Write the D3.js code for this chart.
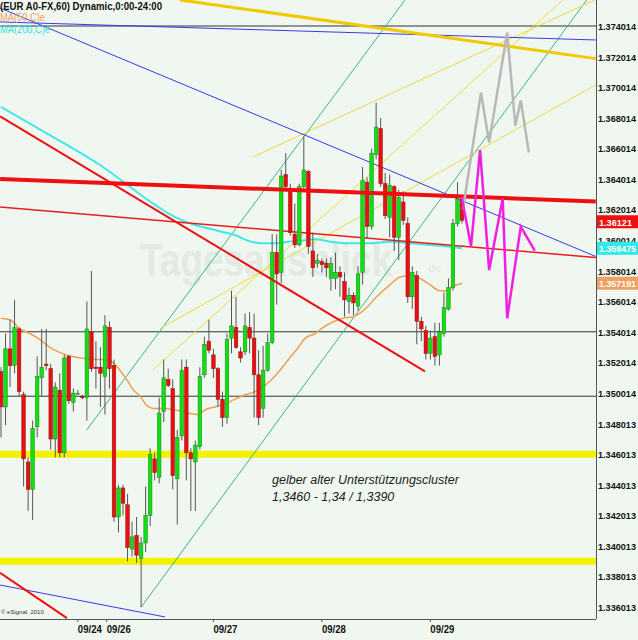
<!DOCTYPE html>
<html>
<head>
<meta charset="utf-8">
<script src="https://cdnjs.cloudflare.com/ajax/libs/d3/7.8.5/d3.min.js"></script>
<style>
  html, body { margin: 0; padding: 0; background: #f0f7f0; }
  svg { display: block; font-family: "Liberation Sans", Arial, sans-serif; }
</style>
</head>
<body>
<svg id="chart" width="638" height="640"></svg>
<script>
// hourly candles, index 0 = first visible bar
const opens = [1.3514,1.3491,1.3529,1.3518,1.3542,1.3499,1.3455,1.3437,1.3478,1.3510,1.3519,1.3516,1.3470,1.3502,1.3461,1.3524,1.3494,1.3500,1.3498,1.3497,
  1.3540,1.3517,1.3517,1.3511,1.3543,1.3518,1.3419,1.3438,1.3427,1.3398,1.3407,1.3392,1.3402,1.3420,1.3457,1.3445,1.3488,1.3509,1.3503,1.3444,
  1.3472,1.3517,1.3461,1.3455,1.3465,1.3512,1.3534,1.3525,1.3516,1.3496,1.3484,1.3536,1.3543,1.3527,1.3527,1.3543,1.3536,1.3512,1.3490,1.3515,
  1.3533,1.3592,1.3579,1.3643,1.3633,1.3604,1.3597,1.3635,1.3645,1.3593,1.3585,1.3586,1.3585,1.3575,1.3575,1.3579,1.3573,1.3560,1.3564,1.3557,
  1.3579,1.3638,1.3609,1.3656,1.3673,1.3637,1.3615,1.3635,1.3602,1.3625,1.3611,1.3563,1.3577,1.3547,1.3541,1.3526,1.3537,1.3525,1.3539,1.3555,
  1.3569,1.3611,1.3627];
const highs = [1.3517,1.3539,1.3548,1.3561,1.3543,1.3501,1.3458,1.3482,1.3524,1.3542,1.3542,1.3519,1.3507,1.3513,1.3525,1.3525,1.3503,1.3502,1.3499,1.3560,
  1.3580,1.3534,1.3530,1.3551,1.3547,1.3522,1.3440,1.3440,1.3434,1.3416,1.3419,1.3406,1.3439,1.3464,1.3461,1.3497,1.3522,1.3516,1.3509,1.3476,
  1.3522,1.3522,1.3464,1.3469,1.3517,1.3537,1.3548,1.3529,1.3517,1.3501,1.3539,1.3567,1.3563,1.3530,1.3552,1.3553,1.3552,1.3528,1.3531,1.3539,
  1.3604,1.3604,1.3646,1.3657,1.3637,1.3624,1.3637,1.3668,1.3646,1.3605,1.3591,1.3588,1.3588,1.3589,1.3592,1.3583,1.3579,1.3569,1.3566,1.3583,
  1.3648,1.3641,1.3660,1.3690,1.3680,1.3644,1.3643,1.3636,1.3633,1.3632,1.3615,1.3583,1.3580,1.3550,1.3544,1.3541,1.3546,1.3546,1.3566,1.3575,
  1.3614,1.3638,1.3628];
const lows = [1.3471,1.3479,1.3504,1.3513,1.3498,1.3439,1.3423,1.3417,1.3471,1.3498,1.3515,1.3463,1.3458,1.3458,1.3458,1.3493,1.3488,1.3499,1.3496,1.3482,
  1.3514,1.3503,1.3491,1.3486,1.3503,1.3416,1.3409,1.3420,1.3390,1.3393,1.3389,1.3360,1.3396,1.3413,1.3443,1.3441,1.3481,1.3504,1.3437,1.3414,
  1.3469,1.3443,1.3423,1.3423,1.3463,1.3510,1.3526,1.3510,1.3491,1.3478,1.3480,1.3526,1.3529,1.3520,1.3525,1.3526,1.3484,1.3479,1.3484,1.3514,
  1.3532,1.3558,1.3572,1.3633,1.3603,1.3595,1.3596,1.3634,1.3591,1.3576,1.3582,1.3579,1.3576,1.3567,1.3568,1.3563,1.3550,1.3552,1.3551,1.3554,
  1.3571,1.3601,1.3607,1.3653,1.3635,1.3614,1.3602,1.3593,1.3587,1.3610,1.3559,1.3555,1.3532,1.3534,1.3522,1.3522,1.3518,1.3518,1.3537,1.3554,
  1.3567,1.3609,1.3611];
const closes = [1.3491,1.3529,1.3518,1.3543,1.3501,1.3457,1.3437,1.3477,1.3511,1.3517,1.3518,1.3470,1.3504,1.3461,1.3523,1.3495,1.3500,1.3500,1.3497,1.3542,
  1.3516,1.3516,1.3513,1.3544,1.3516,1.3419,1.3438,1.3428,1.3399,1.3406,1.3394,1.3402,1.3420,1.3460,1.3448,1.3487,1.3510,1.3505,1.3446,1.3471,
  1.3515,1.3461,1.3457,1.3466,1.3511,1.3532,1.3528,1.3516,1.3496,1.3484,1.3535,1.3544,1.3530,1.3523,1.3544,1.3536,1.3512,1.3484,1.3515,1.3533,
  1.3592,1.3578,1.3642,1.3635,1.3605,1.3597,1.3635,1.3646,1.3596,1.3582,1.3587,1.3584,1.3582,1.3585,1.3579,1.3576,1.3561,1.3564,1.3559,1.3578,
  1.3639,1.3609,1.3657,1.3674,1.3637,1.3616,1.3636,1.3602,1.3628,1.3613,1.3563,1.3579,1.3547,1.3542,1.3526,1.3536,1.3524,1.3540,1.3556,1.3569,
  1.3611,1.3627,1.3613];

// moving averages, sampled at bar index
const ma50Idx = [0,2,4.2,6.4,8.6,10.8,12.7,14.5,17.5,20.4,23.4,24.8,26.3,27.8,29.3,30.8,32.2,33.7,36.3,38.5,41.4,43.6,45.1,47.3,50.3,54,56.2,58.4,60.6,63.6,65.8,67.3,69.5,71.3,75.7,77.9,80.2,83.1,86.1,88.3,90.5,92.7,94.9,97.1,98.6,100.1,102];
const ma50Val = [1.3549,1.3548,1.3542,1.3539,1.3535,1.3530,1.3527,1.3525,1.3523,1.3522,1.3522,1.3520,1.3515,1.3509,1.3502,1.3498,1.3492,1.3490,1.3490,1.3489,1.3487,1.3486,1.3489,1.3491,1.3494,1.3499,1.3501,1.3505,1.3511,1.3522,1.3530,1.3536,1.3539,1.3543,1.3549,1.3550,1.3554,1.3563,1.3571,1.3576,1.3577,1.3575,1.3571,1.3567,1.3567,1.3570,1.35719];
const ma200Idx = [0,10.8,21.9,34.1,37,40,42.9,45.9,48.8,51.8,54.7,57.7,60.6,63.6,66.5,69.5,72.8,77.2,81.6,86,90.5,94.9,99.3,102];
const ma200Val = [1.36872,1.36688,1.36492,1.36231,1.36176,1.36132,1.36100,1.36078,1.36056,1.36034,1.35997,1.35980,1.35980,1.35991,1.35997,1.36006,1.35991,1.35980,1.35980,1.35991,1.35980,1.35969,1.35958,1.359475];

const priceTicks = ['1.374014','1.372014','1.370014','1.368014','1.366014','1.364014','1.362014','1.360014','1.358014','1.356014',
  '1.354014','1.352014','1.350014','1.348013','1.346013','1.344013','1.342013','1.340013','1.338013','1.336013'];
const dateTicks = ['09/24','09/26','09/27','09/28','09/29'];
const dateTickIdx = [17,23.4,47,71,95];

// drawn studies: [idx1, price1, idx2, price2]
const redThick = [[-0.2,1.36401,131.6,1.36253]];
const redThin = [[-0.2,1.36218,131.6,1.35887]];
const redTrend = [[-0.2,1.36811,93.8,1.35142],[-0.2,1.33824,14.6,1.33529]];
const blueLines = [[-0.2,1.37519,131.6,1.35894],[-0.2,1.37428,131.6,1.37310],[-0.2,1.33745,36.3,1.33536]];
const greenLines = [[31,1.3360,129.6,1.37572],[18.96,1.34759,89.4,1.37572]];
const yellowThin = [[55.75,1.36545,131.4,1.37572],[33.6,1.35151,124.3,1.37572],[35.8,1.35433,131.6,1.37016]];
const goldLine = [[39.6,1.37572,131.6,1.37188]];
const hLevels = [1.374014,1.354014,1.3498];
const yellowZones = [1.3460,1.3390];

// projections
const magentaIdx = [101.9,104,106,108,111,112,115,118.1];
const magentaVal = [1.36285,1.35962,1.36590,1.35805,1.36274,1.35489,1.36089,1.35932];
const grayIdx = [102.2,106.2,108,109.8,112,113.8,115,116.8];
const grayVal = [1.36201,1.36966,1.36639,1.36966,1.37358,1.36750,1.36914,1.36574];

const lastPrice = '1.36121', ma200Last = '1.359475', ma50Last = '1.357191';

const plotR = 596, plotB = 619;
const svg = d3.select('#chart');

const x = d3.scaleLinear().domain([0, 102]).range([1, 462]);
const y = d3.scaleLinear().domain([1.336013, 1.374014]).range([607, 26]);

svg.append('defs').append('clipPath').attr('id', 'plot')
  .append('rect').attr('x', 0).attr('y', 0).attr('width', plotR).attr('height', plotB);

const g = svg.append('g').attr('clip-path', 'url(#plot)');

// faint watermark
const wm = g.append('text').attr('x', 140).attr('y', 276).attr('font-weight', 'bold').attr('fill', '#e3eae3');
wm.append('tspan').attr('font-size', 46).attr('textLength', 252).attr('lengthAdjust', 'spacingAndGlyphs').text('Tagesausblick');
wm.append('tspan').attr('font-size', 11).attr('x', 428).attr('dy', -4).text('de');

// yellow support zones
g.selectAll('.zone').data(yellowZones).enter().append('line')
  .attr('x1', 0).attr('x2', plotR)
  .attr('y1', d => y(d)).attr('y2', d => y(d))
  .attr('stroke', '#f2f200').attr('stroke-width', 7);

// horizontal levels
g.selectAll('.lvl').data(hLevels).enter().append('line')
  .attr('x1', 0).attr('x2', plotR)
  .attr('y1', d => y(d)).attr('y2', d => y(d))
  .attr('stroke', '#333').attr('stroke-width', 1);

function drawSegs(arr, color, width) {
  g.append('g').selectAll('line').data(arr).enter().append('line')
    .attr('x1', d => x(d[0])).attr('y1', d => y(d[1]))
    .attr('x2', d => x(d[2])).attr('y2', d => y(d[3]))
    .attr('stroke', color).attr('stroke-width', width);
}

drawSegs(greenLines, '#3fb383', 1);
drawSegs(yellowThin, '#f0d840', 1);
drawSegs(blueLines, '#3a3ae8', 1);

// moving averages
const maLine = d3.line().x(d => x(d[0])).y(d => y(d[1])).curve(d3.curveMonotoneX);
g.append('path').datum(d3.zip(ma200Idx, ma200Val))
  .attr('d', maLine).attr('fill', 'none').attr('stroke', '#40e8e8').attr('stroke-width', 2);
g.append('path').datum(d3.zip(ma50Idx, ma50Val))
  .attr('d', maLine).attr('fill', 'none').attr('stroke', '#f0a050').attr('stroke-width', 1.5);

drawSegs(redThin, '#ee1c1c', 1.5);

// candles
const bars = d3.range(opens.length).map(i => ({ i, o: opens[i], h: highs[i], l: lows[i], c: closes[i] }));
const cg = g.append('g');
cg.selectAll('.wick').data(bars).enter().append('line')
  .attr('x1', d => x(d.i)).attr('x2', d => x(d.i))
  .attr('y1', d => y(d.h)).attr('y2', d => y(d.l))
  .attr('stroke', '#555').attr('stroke-width', 1);
cg.selectAll('.body').data(bars).enter().append('rect')
  .attr('x', d => x(d.i) - 1.8).attr('width', 3.6)
  .attr('y', d => y(Math.max(d.o, d.c)))
  .attr('height', d => Math.max(1, Math.abs(y(d.o) - y(d.c))))
  .attr('fill', d => d.c >= d.o ? '#10e010' : '#e81010')
  .attr('stroke', d => d.c >= d.o ? '#208020' : '#901010').attr('stroke-width', 0.5);

drawSegs(redThick, '#ee1010', 4);
drawSegs(redTrend, '#ee1010', 2);
drawSegs(goldLine, '#f0c800', 3);

const proj = d3.line().x(d => x(d[0])).y(d => y(d[1]));
g.append('path').datum(d3.zip(grayIdx, grayVal))
  .attr('d', proj).attr('fill', 'none').attr('stroke', '#b8b8b8').attr('stroke-width', 2.5);
g.append('path').datum(d3.zip(magentaIdx, magentaVal))
  .attr('d', proj).attr('fill', 'none').attr('stroke', '#f020e0').attr('stroke-width', 2.5);

// axes frame
svg.append('line').attr('x1', plotR + 0.5).attr('x2', plotR + 0.5).attr('y1', 0).attr('y2', plotB)
  .attr('stroke', '#555').attr('stroke-width', 1);
svg.append('line').attr('x1', 0).attr('x2', plotR).attr('y1', plotB + 0.5).attr('y2', plotB + 0.5)
  .attr('stroke', '#555').attr('stroke-width', 1);

// price scale on the right
svg.append('g').selectAll('text').data(priceTicks).enter().append('text')
  .attr('x', 598).attr('y', d => y(+d) + 4)
  .attr('textLength', 38).attr('lengthAdjust', 'spacingAndGlyphs')
  .attr('font-size', 9.5).attr('font-weight', 'bold').attr('fill', '#111')
  .text(d => d);

const boxes = [[lastPrice, '#f01010'], [ma200Last, '#30e8e8'], [ma50Last, '#f0a060']];
boxes.forEach(([v, col]) => {
  const yy = y(+v);
  svg.append('rect').attr('x', 597).attr('y', yy - 6.5).attr('width', 41).attr('height', 13).attr('fill', col);
  svg.append('text').attr('x', 599).attr('y', yy + 4)
    .attr('textLength', v.length > 7 ? 37 : 33).attr('lengthAdjust', 'spacingAndGlyphs')
    .attr('font-size', 9.5).attr('font-weight', 'bold').attr('fill', '#fff').text(v);
});

// date axis
const dg = svg.append('g');
dateTicks.forEach((t, k) => {
  const xx = x(dateTickIdx[k]);
  dg.append('line').attr('x1', xx).attr('x2', xx).attr('y1', plotB).attr('y2', plotB + 3).attr('stroke', '#555');
  dg.append('text').attr('x', xx).attr('y', 633).attr('font-size', 11).attr('font-weight', 'bold')
    .attr('textLength', 24).attr('lengthAdjust', 'spacingAndGlyphs').attr('fill', '#111').text(t);
});

// titles
svg.append('text').attr('x', 0).attr('y', 10).attr('font-size', 10.5).attr('font-weight', 'bold')
  .attr('textLength', 162).attr('lengthAdjust', 'spacingAndGlyphs').attr('fill', '#111')
  .text('(EUR A0-FX,60) Dynamic,0:00-24:00');
svg.append('text').attr('x', 0).attr('y', 21).attr('font-size', 11)
  .attr('textLength', 45).attr('lengthAdjust', 'spacingAndGlyphs').attr('fill', '#f0a060').text('MA(50,C)e');
svg.append('text').attr('x', 0).attr('y', 33).attr('font-size', 11)
  .attr('textLength', 50).attr('lengthAdjust', 'spacingAndGlyphs').attr('fill', '#30e0e0').text('MA(200,C)e');

svg.append('text').attr('x', 1).attr('y', 614).attr('font-size', 6).attr('fill', '#333').text('© eSignal, 2010');

// note
svg.append('text').attr('x', 272).attr('y', 484).attr('font-size', 12.5).attr('font-style', 'italic').attr('fill', '#222')
  .text('gelber alter Unterstützungscluster');
svg.append('text').attr('x', 272).attr('y', 501).attr('font-size', 12.5).attr('font-style', 'italic').attr('fill', '#222')
  .text('1,3460 - 1,34 / 1,3390');
</script>
</body>
</html>
